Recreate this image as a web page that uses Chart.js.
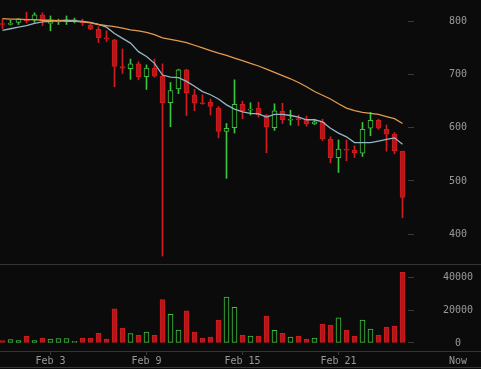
<!DOCTYPE html>
<html lang="en">
<head>
<meta charset="UTF-8">
<title>Price chart</title>
<script src="https://cdn.jsdelivr.net/npm/chart.js"></script>
<style>
  html, body { margin: 0; padding: 0; background: #0b0b0b; }
  canvas { display: block; }
</style>
</head>
<body>
<canvas id="chart" width="481" height="369"></canvas>
<script>
// 12h candles, Jan 31 -> Feb 25
const opens = [795, 794, 798, 804, 802, 812, 796, 799, 800, 801,
               798, 793, 785, 769, 765, 715, 711, 720, 696, 712,
               697, 647, 673, 709, 662, 647, 648, 637, 593, 600,
               644, 633, 637, 624, 600, 631, 614, 617, 616, 607,
               611, 578, 544, 560, 558, 552, 599, 614, 597, 588, 556];
const highs = [804, 802, 805, 817, 816, 816, 810, 804, 810, 806,
               804, 795, 790, 782, 766, 748, 729, 724, 718, 729,
               720, 685, 710, 710, 672, 662, 654, 640, 608, 690,
               650, 647, 648, 625, 645, 646, 633, 624, 622, 616,
               616, 583, 577, 577, 566, 610, 629, 616, 605, 591, 556];
const lows = [786, 793, 794, 797, 798, 792, 782, 794, 794, 797,
              792, 784, 760, 762, 677, 702, 691, 690, 672, 695,
              359, 602, 664, 623, 632, 644, 624, 581, 505, 590,
              617, 624, 620, 553, 595, 608, 605, 604, 603, 606,
              576, 534, 516, 538, 544, 546, 585, 597, 556, 551, 431];
const closes = [794, 796, 804, 801, 812, 801, 797, 800, 802, 802,
                797, 786, 769, 767, 715, 712, 720, 696, 712, 697,
                647, 670, 709, 666, 646, 645, 640, 593, 599, 644,
                632, 635, 624, 601, 632, 615, 616, 615, 607, 611,
                579, 544, 560, 558, 553, 597, 614, 599, 588, 557, 469];
const volumes = [1400, 2000, 1400, 4100, 1400, 2900, 2300, 2700, 2700, 1000,
                 2900, 2900, 5900, 2300, 20700, 9000, 5700, 4700, 6600, 4700,
                 26300, 17400, 7800, 19500, 6600, 2900, 3500, 13900, 27900, 21700,
                 4700, 4100, 4100, 16400, 7600, 5900, 3500, 4100, 2300, 2900,
                 11500, 10900, 15200, 7800, 4100, 13900, 8400, 4700, 9600, 10300, 42900];
const maShort = [783, 786, 789, 792, 796, 799, 800, 801, 802, 801,
                 800, 798, 794, 789, 777, 768, 759, 743, 734, 721,
                 699, 695, 694, 687, 678, 668, 662, 654, 643, 635,
                 630, 627, 626, 620, 625, 625, 623, 620, 615, 615,
                 611, 599, 590, 583, 572, 572, 572, 575, 578, 581, 569];
const maLong = [805, 804, 804, 803, 803, 802, 802, 801, 800, 800,
                799, 797, 794, 792, 790, 787, 784, 782, 779, 775,
                769, 766, 763, 760, 755, 750, 745, 740, 736, 731,
                726, 721, 716, 710, 704, 698, 692, 685, 677, 668,
                661, 654, 645, 637, 632, 629, 627, 625, 621, 617, 608];

const priceTicks = [400, 500, 600, 700, 800];
const volumeTicks = [0, 20000, 40000];
const dateTicks = [6, 18, 30, 42];
const dateLabels = ['Feb 3', 'Feb 9', 'Feb 15', 'Feb 21'];

const RED = '#d01d1f', RED_FILL = '#b3151a', GREEN = '#3fc43f', BG = '#0b0b0b';
const up = opens.map((o, i) => closes[i] >= o);

const idx = opens.map((_, i) => i);
const wicks = idx.map(i => ({ x: i, y: [lows[i], highs[i]] }));
const bodies = idx.map(i => ({ x: i, y: [opens[i], closes[i]] }));
const vols = idx.map(i => ({ x: i, y: volumes[i] }));

Chart.defaults.font.family = 'DejaVu Sans Mono';
Chart.defaults.font.size = 10;

const tickFont = { family: 'DejaVu Sans Mono', size: 10 };

const chrome = {
  id: 'chrome',
  beforeDatasetsDraw(chart) {
    const { ctx, width, height } = chart;
    const s = chart.scales;
    ctx.save();
    ctx.strokeStyle = '#363636';
    ctx.lineWidth = 1;
    [s.y.bottom, s.yv.bottom, height - 2].forEach(py => {
      const yy = Math.round(py) + 0.5;
      ctx.beginPath();
      ctx.moveTo(0, yy);
      ctx.lineTo(width, yy);
      ctx.stroke();
    });
    ctx.restore();
  },
  afterDraw(chart) {
    const { ctx } = chart;
    const s = chart.scales;
    ctx.save();
    ctx.fillStyle = '#999';
    ctx.font = '10px "DejaVu Sans Mono"';
    ctx.textAlign = 'center';
    ctx.textBaseline = 'middle';
    ctx.fillText('Now', s.y.left + 50, s.x.top + 10);
    ctx.restore();
  }
};

new Chart(document.getElementById('chart'), {
  type: 'bar',
  data: {
    datasets: [
      { type: 'line', data: idx.map(i => ({ x: i, y: maLong[i] })), yAxisID: 'y',
        borderColor: '#e39a4e', borderWidth: 1.3, pointRadius: 0, order: 0 },
      { type: 'line', data: idx.map(i => ({ x: i, y: maShort[i] })), yAxisID: 'y',
        borderColor: '#93b7c9', borderWidth: 1.3, pointRadius: 0, order: 0 },
      { data: bodies, yAxisID: 'y', grouped: false, barThickness: 5, minBarLength: 1,
        backgroundColor: up.map(u => u ? BG : RED_FILL),
        borderColor: up.map(u => u ? GREEN : RED),
        borderWidth: 1, borderSkipped: false, order: 1 },
      { data: wicks, yAxisID: 'y', grouped: false, barThickness: 1,
        backgroundColor: up.map(u => u ? GREEN : RED), borderWidth: 0, order: 2 },
      { data: vols, yAxisID: 'yv', grouped: false, barThickness: 5,
        backgroundColor: up.map(u => u ? BG : RED_FILL),
        borderColor: up.map(u => u ? GREEN : RED),
        borderWidth: 1, borderSkipped: false, order: 3 }
    ]
  },
  options: {
    responsive: false,
    animation: false,
    layout: { padding: 0 },
    plugins: { legend: { display: false }, tooltip: { enabled: false } },
    scales: {
      x: {
        type: 'linear', position: 'bottom', offset: false,
        min: -0.3125, max: 50.6875,
        grid: { offset: false, drawOnChartArea: false, drawTicks: true, tickLength: 4, color: '#363636' },
        border: { display: false },
        ticks: { color: '#999', font: tickFont, padding: 0, maxRotation: 0, autoSkip: false,
                 callback: v => { const k = dateTicks.indexOf(v); return k < 0 ? '' : dateLabels[k]; } },
        afterBuildTicks: s => { s.ticks = dateTicks.map(v => ({ value: v })); },
        afterFit: s => { s.height = 18; s.paddingLeft = 0; s.paddingRight = 0; }
      },
      y: {
        position: 'right', stack: 'panes', stackWeight: 264,
        min: 344, max: 840,
        grid: { drawOnChartArea: false, tickLength: 6, color: '#3a3a3a' },
        border: { display: false },
        ticks: { color: '#999', font: tickFont, padding: 35, crossAlign: 'center',
                 callback: v => String(v) },
        afterBuildTicks: s => { s.ticks = priceTicks.map(v => ({ value: v })); },
        afterFit: s => { s.width = 73; s.paddingTop = 0; s.paddingBottom = 0; }
      },
      yv: {
        position: 'right', stack: 'panes', stackWeight: 87,
        min: -4900, max: 48000,
        grid: { drawOnChartArea: false, tickLength: 6, color: '#3a3a3a' },
        border: { display: false },
        ticks: { color: '#999', font: tickFont, padding: 29, crossAlign: 'center',
                 callback: v => String(v) },
        afterBuildTicks: s => { s.ticks = volumeTicks.map(v => ({ value: v })); },
        afterFit: s => { s.width = 73; s.paddingTop = 0; s.paddingBottom = 0; }
      }
    }
  },
  plugins: [chrome]
});
</script>
</body>
</html>
